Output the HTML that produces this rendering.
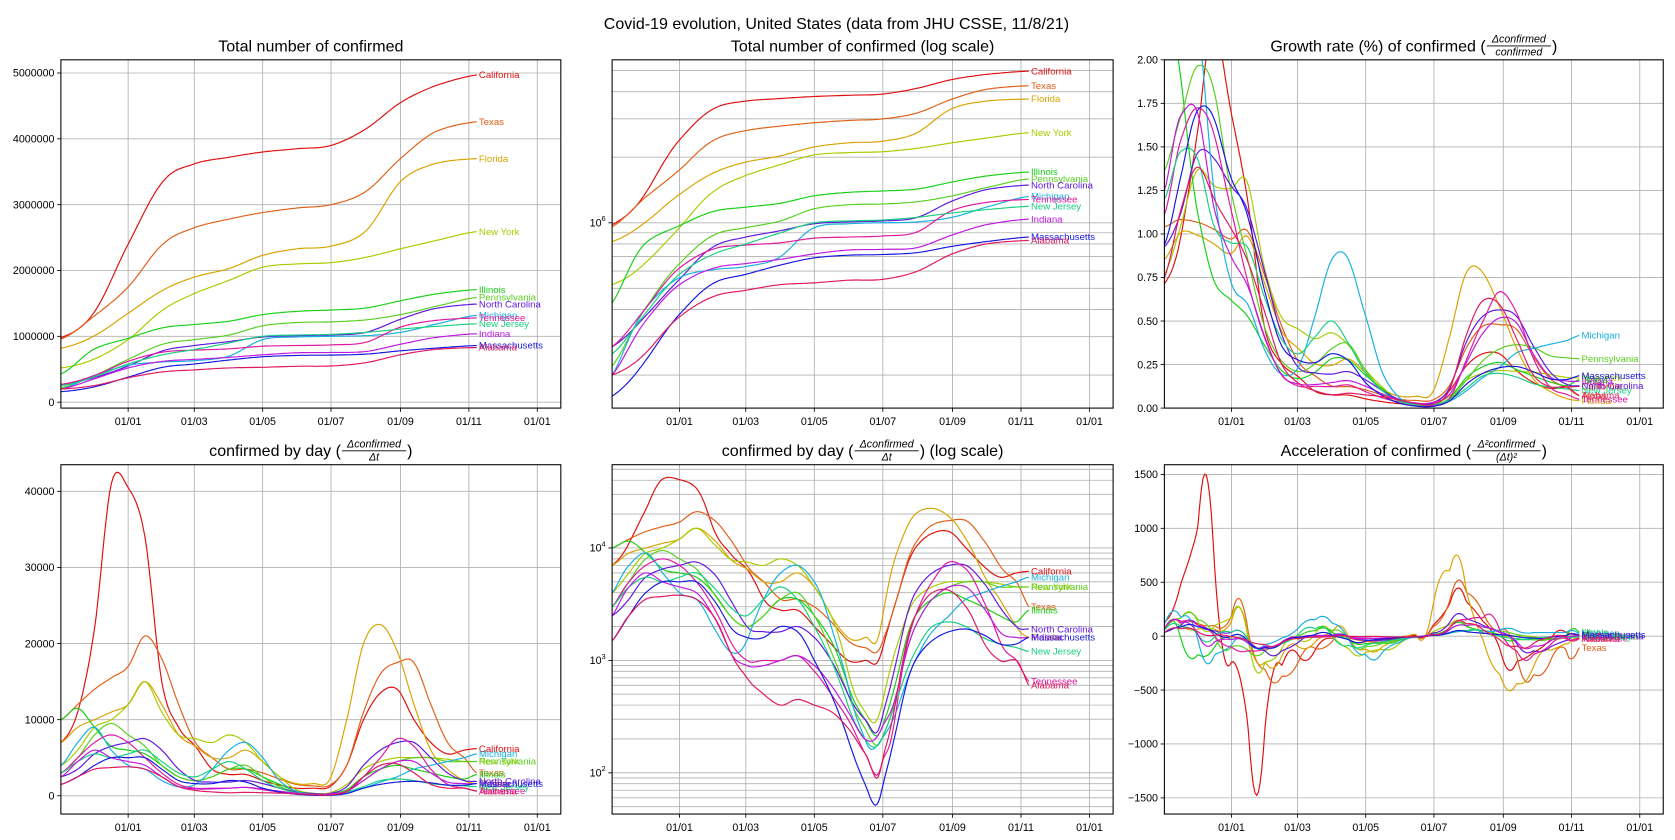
<!DOCTYPE html>
<html><head><meta charset="utf-8">
<style>
html,body{margin:0;padding:0;background:#fff;}
svg{display:block;font-family:"Liberation Sans","DejaVu Sans",sans-serif;}
</style></head>
<body>
<svg id="chart" width="1675" height="840" viewBox="0 0 1568 786.3" preserveAspectRatio="none" xmlns="http://www.w3.org/2000/svg">
<rect width="1568" height="787" fill="#fff"/>
<text x="783" y="27" font-size="15" text-anchor="middle">Covid-19 evolution, United States (data from JHU CSSE, 11/8/21)</text>
</svg>
<script>
// ---------- data ----------
const states = ["California","Texas","Florida","New York","Illinois","Pennsylvania","North Carolina","Michigan","Tennessee","New Jersey","Indiana","Massachusetts","Alabama"];
const colors = ["#e01010","#e06018","#d8a400","#a8cc00","#18d018","#58d020","#6018e0","#18b0e0","#e018a0","#18d080","#c018e0","#1818e0","#e01860"];
// cumulative knots (day index from 2020-11-02), thousands
const cumDays = [0,29,60,91,119,150,180,211,241,272,303,333,371];
const cumCA = [980,1350,2400,3350,3620,3720,3800,3850,3900,4150,4550,4800,4970];
const cumTX = [960,1300,1750,2400,2650,2780,2880,2950,3000,3200,3700,4100,4260];
const cumFL = [820,1000,1350,1700,1900,2030,2230,2330,2370,2600,3350,3620,3700];
const cumNY = [520,650,950,1400,1650,1850,2050,2100,2120,2200,2330,2450,2590];
const cumIL = [430,800,970,1130,1180,1230,1330,1380,1400,1430,1540,1640,1710];
const cumPA = [220,400,650,880,950,1020,1160,1210,1220,1250,1330,1450,1590];
const cumNC = [270,370,550,780,860,920,990,1010,1020,1060,1260,1420,1490];
const cumMI = [200,400,560,610,630,700,950,990,1000,1010,1060,1180,1320];
const cumTN = [270,400,620,760,790,810,850,860,870,910,1140,1240,1280];
const cumNJ = [250,380,580,720,800,900,1000,1020,1030,1060,1110,1150,1190];
const cumIN = [200,350,520,620,650,680,720,750,755,770,880,980,1040];
const cumMA = [160,230,380,530,580,640,690,710,715,730,780,820,860];
const cumAL = [200,250,370,460,490,520,530,545,550,600,720,800,830];
// daily new cases knots, thousands/day
const dayDays = [0,15,30,45,60,75,90,105,120,135,150,165,180,195,210,225,240,255,270,285,300,315,330,345,360,371];
const dayCA = [7,11,22,41,40.5,34,15,9,6.5,3.5,2.8,2.8,2,1.4,1.0,1.0,1.2,4,10,13.5,14,10,7,5.5,6,6.2];
const dayTX = [10,12,14,15.5,17,21,18,12,7,5,3.5,3.5,3,2.2,1.5,1.3,1.4,4,11,16,17.5,17.5,12,7,5,3];
const dayFL = [7,9,10,11,12,15,12,8,6.5,5,5,6,4.5,2.5,1.6,1.6,2.2,10,20,22.5,19,12,6,3.5,2,1.6];
const dayNY = [4,6,9,10,12,15,11,8,7.5,7,8,7,4.5,2.5,0.8,0.35,0.4,1.5,3.5,4.5,5,5,5,4.8,4.5,4.5];
const dayIL = [10,11.5,9,6.5,6,5.5,4,2.5,2,2.5,3.5,3.5,2.5,1.5,0.6,0.3,0.25,0.8,2.5,3.5,4,3.5,3,2.5,2.2,2.8];
const dayPA = [3,5,8,9.5,8,6.5,4,2.5,2,2.5,3.5,4,2.5,1.2,0.5,0.25,0.2,0.6,2,3.5,4.5,5,5,4.5,4.5,4.5];
const dayNC = [2.5,3.5,5.5,6.5,7,7.5,6,3.5,2,1.8,1.8,2,1.6,1,0.5,0.3,0.3,1.2,4,6,7,7,5,3,2,1.9];
const dayMI = [4,7,9,6,4,3.5,2,1.2,1.5,3.5,6,7,5,2,0.6,0.2,0.2,0.4,1,1.8,2.5,3.5,4,4.5,5,5.5];
const dayTN = [3,5,7,8,7,5,3,1.5,1,1,1,1.1,0.8,0.5,0.3,0.15,0.12,0.5,2.5,5,7.5,6.5,3.5,1.5,1.0,0.65];
const dayNJ = [3,4.5,5.5,5,5.5,6,4.5,3,2.5,3.5,4.5,3.5,2,1,0.4,0.2,0.2,0.5,1.2,2,2.2,2,1.6,1.4,1.3,1.2];
const dayIN = [2.5,4.5,6,5,4.5,4,2.5,1.2,0.9,0.9,1,1.1,0.9,0.6,0.35,0.2,0.25,0.6,2,3.5,4.5,4.5,3,1.8,1.6,1.6];
const dayMA = [1.5,2.5,4,5,5,5,3.5,2,1.6,1.6,2,1.8,1.0,0.5,0.2,0.08,0.07,0.3,1.0,1.5,1.8,1.9,1.7,1.4,1.4,1.6];
const dayAL = [1.5,2.5,3.5,3.7,3.8,3.5,2.5,1.2,0.7,0.5,0.4,0.45,0.4,0.35,0.25,0.15,0.12,0.6,2.5,4,4.2,3,1.5,1,1,0.6];
const cumSeries = [cumCA,cumTX,cumFL,cumNY,cumIL,cumPA,cumNC,cumMI,cumTN,cumNJ,cumIN,cumMA,cumAL];
const daySeries = [dayCA,dayTX,dayFL,dayNY,dayIL,dayPA,dayNC,dayMI,dayTN,dayNJ,dayIN,dayMA,dayAL];
const xTickDays = [60,119,180,241,303,364,425];
const xTickLabels = ["01/01","01/03","01/05","01/07","01/09","01/11","01/01"];
const lastDay = 371;

// ---------- helpers ----------
const NS = "http://www.w3.org/2000/svg";
const svg = document.getElementById("chart");
function mk(tag, attrs, parent){ const e=document.createElementNS(NS,tag); for(const k in attrs) e.setAttribute(k,attrs[k]); (parent||svg).appendChild(e); return e; }
function interp(xs, ys, t){
  if(t<=xs[0]) return ys[0];
  if(t>=xs[xs.length-1]) return ys[ys.length-1];
  let i=0; while(xs[i+1]<t) i++;
  const p0=ys[Math.max(i-1,0)], p1=ys[i], p2=ys[i+1], p3=ys[Math.min(i+2,ys.length-1)];
  const u=(t-xs[i])/(xs[i+1]-xs[i]);
  return 0.5*((2*p1)+(-p0+p2)*u+(2*p0-5*p1+4*p2-p3)*u*u+(-p0+3*p1-3*p2+p3)*u*u*u);
}
const cumAt=(s,t)=>interp(cumDays,cumSeries[s],t)*1000;
const dayAt=(s,t)=>Math.max(interp(dayDays,daySeries[s],t),0.03)*1000;
const growthAt=(s,t)=>dayAt(s,t)/cumAt(s,t)*100;
const accelAt=(s,t)=>(interp(dayDays,daySeries[s],Math.min(t+1,lastDay))-interp(dayDays,daySeries[s],Math.max(t-1,0)))*1000/ (Math.min(t+1,lastDay)-Math.max(t-1,0));

const cols=[[57,525],[573,1042],[1090,1557]];
const rows=[[56,382],[435,762]];
let pid=0;
function panel(cfg){
  pid++;
  const [x0,x1]=cols[cfg.col], [y0,y1]=rows[cfg.row];
  const g=mk("g",{});
  
  
  const xs=d=>x0+(d-0)/(446-0)*(x1-x0);
  const tr=cfg.log?(v=>Math.log10(Math.max(v,1e-9))):(v=>v);
  const lo=tr(cfg.ymin), hi=tr(cfg.ymax);
  const ys=v=>y1-(tr(v)-lo)/(hi-lo)*(y1-y0);
  const cp=mk("clipPath",{id:"cp"+pid},g); mk("rect",{x:x0,y:y0,width:x1-x0,height:y1-y0},cp);
  const grid=mk("g",{stroke:"#b0b0b0","stroke-width":0.8},g);
   
  xTickDays.forEach(d=>mk("line",{x1:xs(d),x2:xs(d),y1:y0,y2:y1},grid));
  (cfg.gridVals||cfg.ticks).forEach(v=>{ const y=ys(v); if(y>=y0&&y<=y1) mk("line",{x1:x0,x2:x1,y1:y,y2:y},grid); });
  xTickDays.forEach((d,i)=>{
    mk("line",{x1:xs(d),x2:xs(d),y1:y1,y2:y1+3.5,stroke:"#000","stroke-width":0.8},g);
    const t=mk("text",{x:xs(d),y:y1+16,"font-size":10,"text-anchor":"middle"},g); t.textContent=xTickLabels[i];
     
  });
  cfg.ticks.forEach((v,i)=>{
    const y=ys(v);
    mk("line",{x1:x0-3.5,x2:x0,y1:y,y2:y,stroke:"#000","stroke-width":0.8},g);
    const t=mk("text",{x:x0-6,y:y+3.5,"font-size":10,"text-anchor":"end"},g);
     
    if(cfg.tickSup){ t.textContent="10"; const s=mk("tspan",{"font-size":7,dy:-5},t); s.textContent=cfg.tickSup[i]; }
    else t.textContent=cfg.tickLabels?cfg.tickLabels[i]:String(v);
  });
  const sg=mk("g",{"clip-path":`url(#cp${pid})`},g);
  states.forEach((st,s)=>{
    let d=""; for(let t=0;t<=lastDay;t+=1.5){ const tt=Math.min(t,lastDay); let v=cfg.f(s,tt); if(cfg.log) v=Math.max(v,cfg.ymin*0.5); d+=(d?"L":"M")+xs(tt).toFixed(1)+","+ys(v).toFixed(1); }
    const v=cfg.f(s,lastDay); d+="L"+xs(lastDay).toFixed(1)+","+ys(v).toFixed(1);
    const p=mk("path",{d:d,fill:"none",stroke:colors[s],"stroke-width":1.1},sg);
    
    
    const ly=ys(v);
    if(ly>=y0-2&&ly<=y1+2){
      const t=mk("text",{x:xs(lastDay)+2,y:ly+3,"font-size":9,fill:colors[s]},g); t.textContent=st;
       
    }
  });
  const fr=mk("rect",{x:x0,y:y0,width:x1-x0,height:y1-y0,fill:"none",stroke:"#000","stroke-width":1},g);
   
  const cx=(x0+x1)/2, ty=y0-8;
  const tg=mk("g",{},g);  
  if(!cfg.frac){ const t=mk("text",{x:cx,y:ty,"font-size":15,"text-anchor":"middle"},tg); t.textContent=cfg.title; }
  else{
    const pre=mk("text",{x:0,y:ty,"font-size":15},tg); pre.textContent=cfg.title+" (";
    const w1=pre.getComputedTextLength();
    const fw=cfg.fracW; const post=mk("text",{x:0,y:ty,"font-size":15},tg); post.textContent=")"+(cfg.post||"");
    const w2=post.getComputedTextLength();
    const total=w1+fw+w2, sx=cx-total/2;
    pre.setAttribute("x",sx); post.setAttribute("x",sx+w1+fw);
    const fx=sx+w1+fw/2;
    const a=mk("text",{x:fx,y:ty-8,"font-size":10,"font-style":"italic","text-anchor":"middle"},tg); a.textContent=cfg.frac[0];
    mk("line",{x1:sx+w1+1,x2:sx+w1+fw-1,y1:ty-5,y2:ty-5,stroke:"#000","stroke-width":0.8},tg);
    const b=mk("text",{x:fx,y:ty+4,"font-size":10,"font-style":"italic","text-anchor":"middle"},tg); b.textContent=cfg.frac[1];
  }
}
function logGrid(a,b){ const r=[]; for(let e=a;e<=b;e++) for(let m=1;m<10;m++) r.push(m*Math.pow(10,e)); return r; }

panel({name:"total-confirmed-panel",col:0,row:0,title:"Total number of confirmed",ymin:-90000,ymax:5200000,
  ticks:[0,1000000,2000000,3000000,4000000,5000000],f:cumAt});
panel({name:"total-confirmed-log-panel",col:1,row:0,title:"Total number of confirmed (log scale)",log:true,ymin:141000,ymax:5600000,
  ticks:[1000000],tickSup:["6"],gridVals:logGrid(5,6),f:cumAt});
panel({name:"growth-rate-panel",col:2,row:0,title:"Growth rate (%) of confirmed",frac:["Δconfirmed","confirmed"],fracW:62,ymin:0,ymax:2,
  ticks:[0,0.25,0.5,0.75,1,1.25,1.5,1.75,2],tickLabels:["0.00","0.25","0.50","0.75","1.00","1.25","1.50","1.75","2.00"],f:growthAt});
panel({name:"daily-confirmed-panel",col:0,row:1,title:"confirmed by day",frac:["Δconfirmed","Δt"],fracW:62,ymin:-2400,ymax:43500,
  ticks:[0,10000,20000,30000,40000],f:dayAt});
panel({name:"daily-confirmed-log-panel",col:1,row:1,title:"confirmed by day",post:" (log scale)",frac:["Δconfirmed","Δt"],fracW:62,log:true,ymin:43,ymax:55000,
  ticks:[100,1000,10000],tickSup:["2","3","4"],gridVals:logGrid(1,4),f:dayAt});
panel({name:"acceleration-panel",col:2,row:1,title:"Acceleration of confirmed",frac:["Δ²confirmed","(Δt)²"],fracW:66,ymin:-1650,ymax:1590,
  ticks:[-1500,-1000,-500,0,500,1000,1500],tickLabels:["−1500","−1000","−500","0","500","1000","1500"],f:accelAt});
</script>
</body></html>
